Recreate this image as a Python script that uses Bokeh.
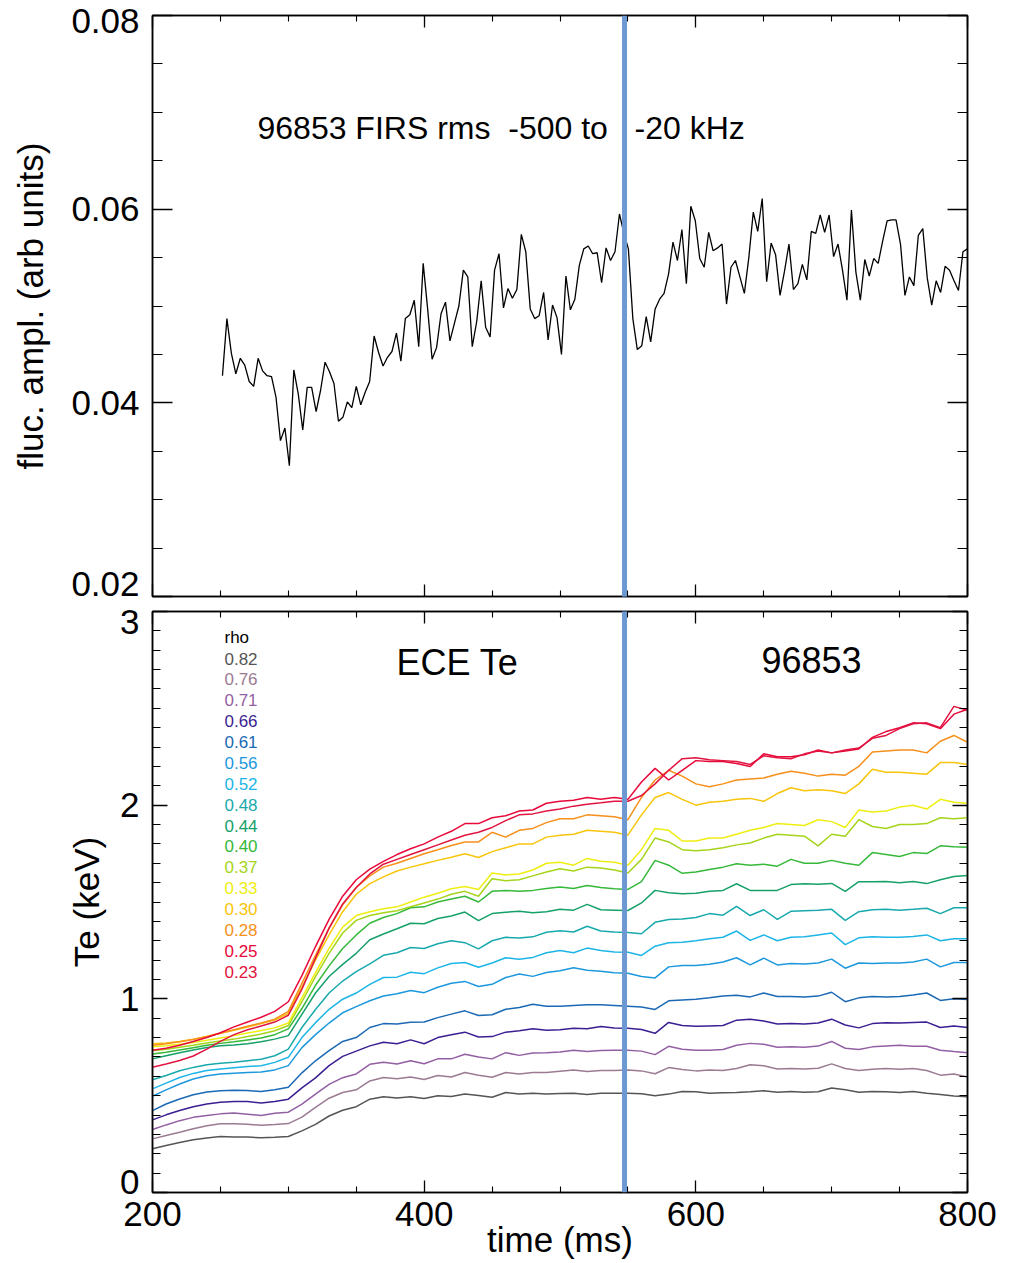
from bokeh.plotting import figure
from bokeh.layouts import column
from bokeh.models import (Range1d, LinearAxis, FixedTicker, Span, Label,
                          BoxAnnotation, PrintfTickFormatter)
from bokeh.core.properties import value
from bokeh.embed import file_html
from bokeh.resources import INLINE

FONT = "Liberation Sans"

# ------------------------------------------------------------------ data
shot = "96853"
marker_time = 547.5          # ms, vertical marker

# FIRS fluctuation amplitude (arb units), uniform sampling
fluc_t0 = 251.5
fluc_dt = 3.284
fluc_amp = [
    0.0428, 0.0487, 0.0451, 0.0430, 0.0446, 0.0439, 0.0422, 0.0417, 0.0446, 0.0433,
    0.0428, 0.0427, 0.0406, 0.0361, 0.0374, 0.0335, 0.0434, 0.0409, 0.0372, 0.0416,
    0.0416, 0.0391, 0.0413, 0.0442, 0.0432, 0.0420, 0.0381, 0.0385, 0.0401, 0.0395,
    0.0417, 0.0398, 0.0411, 0.0422, 0.0469, 0.0452, 0.0438, 0.0447, 0.0453, 0.0472,
    0.0443, 0.0487, 0.0491, 0.0506, 0.0458, 0.0544, 0.0497, 0.0445, 0.0457, 0.0492,
    0.0504, 0.0464, 0.0482, 0.0500, 0.0537, 0.0530, 0.0458, 0.0484, 0.0526, 0.0478,
    0.0468, 0.0537, 0.0554, 0.0498, 0.0518, 0.0508, 0.0517, 0.0574, 0.0556, 0.0497,
    0.0487, 0.0490, 0.0514, 0.0465, 0.0501, 0.0488, 0.0450, 0.0531, 0.0496, 0.0507,
    0.0542, 0.0559, 0.0562, 0.0554, 0.0555, 0.0524, 0.0560, 0.0547, 0.0556, 0.0595,
    0.0575, 0.0559, 0.0487, 0.0455, 0.0459, 0.0489, 0.0463, 0.0497, 0.0507, 0.0513,
    0.0533, 0.0566, 0.0547, 0.0579, 0.0523, 0.0603, 0.0588, 0.0549, 0.0540, 0.0576,
    0.0557, 0.0560, 0.0564, 0.0502, 0.0540, 0.0547, 0.0530, 0.0513, 0.0550, 0.0597,
    0.0577, 0.0611, 0.0525, 0.0565, 0.0553, 0.0511, 0.0536, 0.0564, 0.0517, 0.0523,
    0.0543, 0.0527, 0.0577, 0.0575, 0.0594, 0.0576, 0.0594, 0.0551, 0.0564, 0.0537,
    0.0506, 0.0599, 0.0535, 0.0506, 0.0548, 0.0531, 0.0549, 0.0544, 0.0567, 0.0588,
    0.0589, 0.0589, 0.0564, 0.0511, 0.0530, 0.0521, 0.0573, 0.0580, 0.0529, 0.0501,
    0.0526, 0.0514, 0.0541, 0.0537, 0.0526, 0.0516, 0.0556, 0.0559,
]
fluc_time = [fluc_t0 + i * fluc_dt for i in range(len(fluc_amp))]

# ECE Te (keV) sampled every 10 ms from 200 to 800 ms
ece_time = list(range(200, 801, 10))

rho_labels = ["0.82", "0.76", "0.71", "0.66", "0.61", "0.56", "0.52", "0.48",
              "0.44", "0.40", "0.37", "0.33", "0.30", "0.28", "0.25", "0.23"]
rho_colors = ["#555555", "#9b7b93", "#935fa3", "#3b1f92", "#1b69b5", "#1c98dc",
              "#1cb5e6", "#19a9ad", "#16a06a", "#36b83a", "#a6d41a", "#eeee10",
              "#f8c50a", "#f6901a", "#e8083a", "#e21440"]

te_082 = [0.226, 0.243, 0.258, 0.272, 0.282, 0.289, 0.287, 0.286, 0.283, 0.285, 0.289,
          0.318, 0.352, 0.395, 0.425, 0.443, 0.482, 0.494, 0.488, 0.495, 0.485,
          0.500, 0.496, 0.509, 0.501, 0.492, 0.516, 0.509, 0.513, 0.508, 0.511,
          0.512, 0.506, 0.512, 0.513, 0.513, 0.510, 0.500, 0.508, 0.522, 0.520,
          0.512, 0.515, 0.516, 0.520, 0.525, 0.518, 0.522, 0.518, 0.520, 0.540,
          0.530, 0.518, 0.522, 0.520, 0.516, 0.522, 0.512, 0.506, 0.498, 0.494]
te_076 = [0.277, 0.294, 0.311, 0.329, 0.345, 0.355, 0.355, 0.352, 0.347, 0.351, 0.356,
          0.389, 0.440, 0.487, 0.516, 0.530, 0.576, 0.594, 0.587, 0.596, 0.583,
          0.604, 0.596, 0.620, 0.605, 0.595, 0.620, 0.612, 0.620, 0.620, 0.626,
          0.632, 0.625, 0.630, 0.630, 0.632, 0.628, 0.613, 0.645, 0.635, 0.628,
          0.632, 0.630, 0.640, 0.660, 0.655, 0.638, 0.640, 0.638, 0.642, 0.664,
          0.640, 0.630, 0.636, 0.640, 0.636, 0.640, 0.630, 0.606, 0.612, 0.596]
te_071 = [0.325, 0.349, 0.371, 0.388, 0.398, 0.406, 0.410, 0.404, 0.398, 0.409, 0.415,
          0.456, 0.508, 0.558, 0.593, 0.612, 0.662, 0.673, 0.664, 0.680, 0.665,
          0.690, 0.690, 0.714, 0.700, 0.690, 0.722, 0.708, 0.720, 0.722, 0.726,
          0.734, 0.728, 0.733, 0.735, 0.735, 0.730, 0.712, 0.755, 0.740, 0.734,
          0.735, 0.738, 0.760, 0.770, 0.765, 0.750, 0.752, 0.750, 0.756, 0.780,
          0.745, 0.738, 0.752, 0.756, 0.760, 0.755, 0.755, 0.735, 0.728, 0.722]
te_066 = [0.375, 0.401, 0.423, 0.443, 0.457, 0.466, 0.470, 0.470, 0.462, 0.470, 0.482,
          0.540, 0.592, 0.655, 0.703, 0.730, 0.757, 0.776, 0.768, 0.788, 0.768,
          0.800, 0.814, 0.828, 0.803, 0.805, 0.828, 0.835, 0.845, 0.838, 0.840,
          0.848, 0.846, 0.857, 0.850, 0.848, 0.842, 0.822, 0.878, 0.862, 0.858,
          0.860, 0.862, 0.890, 0.895, 0.885, 0.870, 0.872, 0.870, 0.875, 0.895,
          0.865, 0.850, 0.872, 0.876, 0.875, 0.878, 0.880, 0.852, 0.860, 0.852]
te_061 = [0.423, 0.457, 0.483, 0.505, 0.519, 0.526, 0.528, 0.527, 0.521, 0.530, 0.543,
          0.618, 0.680, 0.733, 0.780, 0.800, 0.852, 0.872, 0.870, 0.879, 0.880,
          0.903, 0.921, 0.938, 0.914, 0.918, 0.946, 0.955, 0.972, 0.962, 0.962,
          0.966, 0.970, 0.970, 0.966, 0.962, 0.958, 0.945, 0.990, 0.994, 0.998,
          1.005, 1.015, 1.018, 1.010, 1.030, 1.012, 1.012, 1.010, 1.014, 1.034,
          0.985, 1.005, 1.012, 1.010, 1.012, 1.020, 1.030, 0.992, 1.000, 0.996]
te_056 = [0.497, 0.530, 0.560, 0.586, 0.603, 0.612, 0.616, 0.620, 0.622, 0.633, 0.655,
          0.748, 0.815, 0.875, 0.928, 0.960, 0.990, 1.015, 1.026, 1.043, 1.032,
          1.060, 1.080, 1.090, 1.064, 1.075, 1.110, 1.128, 1.116, 1.136, 1.145,
          1.160, 1.148, 1.142, 1.135, 1.132, 1.115, 1.108, 1.165, 1.172, 1.172,
          1.178, 1.190, 1.212, 1.175, 1.210, 1.175, 1.182, 1.180, 1.185, 1.205,
          1.158, 1.185, 1.182, 1.185, 1.185, 1.190, 1.205, 1.165, 1.188, 1.188]
te_052 = [0.535, 0.565, 0.594, 0.615, 0.630, 0.638, 0.644, 0.650, 0.655, 0.672, 0.698,
          0.800, 0.877, 0.946, 0.998, 1.030, 1.075, 1.110, 1.112, 1.137, 1.130,
          1.160, 1.182, 1.188, 1.163, 1.185, 1.212, 1.205, 1.214, 1.238, 1.250,
          1.238, 1.262, 1.250, 1.242, 1.240, 1.224, 1.272, 1.290, 1.292, 1.300,
          1.310, 1.318, 1.350, 1.302, 1.330, 1.300, 1.318, 1.320, 1.330, 1.340,
          1.280, 1.315, 1.320, 1.318, 1.318, 1.322, 1.330, 1.300, 1.310, 1.310]
te_048 = [0.582, 0.604, 0.629, 0.646, 0.660, 0.667, 0.672, 0.680, 0.688, 0.706, 0.740,
          0.852, 0.945, 1.030, 1.092, 1.140, 1.180, 1.225, 1.238, 1.265, 1.260,
          1.284, 1.300, 1.290, 1.258, 1.300, 1.318, 1.314, 1.320, 1.344, 1.352,
          1.345, 1.375, 1.350, 1.345, 1.342, 1.336, 1.395, 1.410, 1.412, 1.420,
          1.440, 1.432, 1.478, 1.430, 1.460, 1.410, 1.452, 1.455, 1.458, 1.462,
          1.405, 1.450, 1.460, 1.462, 1.458, 1.462, 1.468, 1.440, 1.470, 1.470]
te_044 = [0.690, 0.706, 0.722, 0.736, 0.749, 0.758, 0.762, 0.768, 0.778, 0.792, 0.810,
          0.920, 1.030, 1.115, 1.178, 1.235, 1.305, 1.335, 1.362, 1.390, 1.388,
          1.415, 1.428, 1.448, 1.404, 1.440, 1.447, 1.452, 1.445, 1.450, 1.462,
          1.458, 1.488, 1.460, 1.458, 1.456, 1.495, 1.560, 1.548, 1.542, 1.545,
          1.555, 1.560, 1.594, 1.560, 1.560, 1.560, 1.590, 1.594, 1.592, 1.596,
          1.555, 1.605, 1.605, 1.606, 1.600, 1.606, 1.595, 1.615, 1.632, 1.637]
te_040 = [0.715, 0.724, 0.736, 0.748, 0.760, 0.770, 0.778, 0.788, 0.798, 0.815, 0.845,
          0.950, 1.070, 1.170, 1.260, 1.330, 1.390, 1.420, 1.440, 1.470, 1.475,
          1.500, 1.515, 1.530, 1.500, 1.555, 1.560, 1.555, 1.560, 1.570, 1.577,
          1.570, 1.585, 1.575, 1.568, 1.565, 1.605, 1.715, 1.690, 1.648, 1.655,
          1.668, 1.680, 1.697, 1.690, 1.695, 1.685, 1.720, 1.700, 1.700, 1.715,
          1.700, 1.690, 1.755, 1.745, 1.735, 1.755, 1.750, 1.790, 1.785, 1.783]
te_037 = [0.732, 0.740, 0.750, 0.760, 0.772, 0.782, 0.792, 0.805, 0.818, 0.835, 0.862,
          0.985, 1.115, 1.235, 1.340, 1.405, 1.430, 1.445, 1.455, 1.475, 1.495,
          1.515, 1.540, 1.555, 1.530, 1.620, 1.610, 1.615, 1.635, 1.655, 1.672,
          1.660, 1.680, 1.675, 1.665, 1.650, 1.720, 1.830, 1.810, 1.770, 1.765,
          1.770, 1.780, 1.795, 1.805, 1.830, 1.850, 1.845, 1.840, 1.790, 1.850,
          1.840, 1.925, 1.890, 1.880, 1.900, 1.900, 1.905, 1.935, 1.930, 1.935]
te_033 = [0.752, 0.758, 0.766, 0.775, 0.786, 0.798, 0.810, 0.823, 0.836, 0.850, 0.875,
          1.005, 1.135, 1.260, 1.370, 1.430, 1.450, 1.465, 1.475, 1.500, 1.525,
          1.545, 1.568, 1.580, 1.565, 1.650, 1.640, 1.645, 1.665, 1.700, 1.705,
          1.690, 1.725, 1.710, 1.705, 1.690, 1.770, 1.880, 1.870, 1.815, 1.815,
          1.830, 1.830, 1.850, 1.870, 1.885, 1.905, 1.900, 1.895, 1.925, 1.915,
          1.885, 1.975, 1.965, 1.970, 1.990, 2.000, 1.980, 2.030, 2.015, 2.010]
te_030 = [0.768, 0.772, 0.780, 0.792, 0.806, 0.822, 0.838, 0.855, 0.872, 0.890, 0.925,
          1.060, 1.200, 1.330, 1.450, 1.540, 1.595, 1.630, 1.660, 1.680, 1.697,
          1.715, 1.731, 1.749, 1.730, 1.760, 1.780, 1.800, 1.800, 1.835, 1.845,
          1.850, 1.870, 1.865, 1.860, 1.845, 1.950, 2.040, 2.065, 2.030, 2.000,
          2.015, 2.020, 2.030, 2.035, 2.020, 2.060, 2.090, 2.075, 2.080, 2.075,
          2.060, 2.110, 2.185, 2.170, 2.170, 2.165, 2.160, 2.220, 2.220, 2.210]
te_028 = [0.760, 0.768, 0.778, 0.790, 0.805, 0.822, 0.840, 0.858, 0.875, 0.895, 0.935,
          1.080, 1.225, 1.365, 1.485, 1.575, 1.635, 1.680, 1.700, 1.725, 1.749,
          1.770, 1.792, 1.810, 1.810, 1.860, 1.835, 1.870, 1.880, 1.910, 1.930,
          1.930, 1.950, 1.945, 1.940, 1.925, 2.040, 2.130, 2.180, 2.150, 2.110,
          2.095, 2.110, 2.130, 2.135, 2.140, 2.160, 2.175, 2.165, 2.150, 2.160,
          2.155, 2.200, 2.275, 2.280, 2.285, 2.285, 2.270, 2.330, 2.360, 2.325]
te_025 = [0.735, 0.745, 0.760, 0.780, 0.800, 0.825, 0.855, 0.880, 0.905, 0.935, 0.985,
          1.120, 1.270, 1.410, 1.530, 1.615, 1.670, 1.710, 1.745, 1.775, 1.800,
          1.835, 1.865, 1.905, 1.905, 1.935, 1.945, 1.970, 1.975, 2.010, 2.020,
          2.025, 2.040, 2.030, 2.040, 2.030, 2.120, 2.190, 2.130, 2.180, 2.230,
          2.225, 2.225, 2.215, 2.200, 2.265, 2.250, 2.250, 2.260, 2.285, 2.270,
          2.280, 2.290, 2.350, 2.380, 2.400, 2.425, 2.420, 2.395, 2.470, 2.495]
te_023 = [0.647, 0.664, 0.682, 0.705, 0.740, 0.780, 0.815, 0.840, 0.860, 0.880, 0.915,
          1.050, 1.210, 1.365, 1.490, 1.575, 1.645, 1.695, 1.720, 1.745, 1.770,
          1.795, 1.820, 1.845, 1.860, 1.885, 1.920, 1.950, 1.955, 1.970, 1.980,
          1.995, 2.005, 2.012, 2.020, 2.020, 2.050, 2.110, 2.180, 2.240, 2.245,
          2.235, 2.230, 2.225, 2.210, 2.255, 2.245, 2.240, 2.265, 2.280, 2.270,
          2.285, 2.295, 2.345, 2.360, 2.395, 2.420, 2.425, 2.400, 2.510, 2.490]

te_series = [te_082, te_076, te_071, te_066, te_061, te_056, te_052, te_048,
             te_044, te_040, te_037, te_033, te_030, te_028, te_025, te_023]

# axis ticks
x_major = [200, 400, 600, 800]
x_minor = [250, 300, 350, 450, 500, 550, 650, 700, 750]
fl_major = [0.02, 0.04, 0.06, 0.08]
fl_minor = [0.025, 0.03, 0.035, 0.045, 0.05, 0.055, 0.065, 0.07, 0.075]
te_major = [0, 1, 2, 3]
te_minor = [i / 10 for i in range(31) if i % 10]
# label anchor positions: the end labels sit slightly inside the frame corners
fl_label_pos = [0.02134, 0.04, 0.06, 0.0794]
te_label_pos = [0.052, 1, 2, 2.948]

# ------------------------------------------------------------------ style
MARK_COLOR = "#6d98d2"
TICK_FS = "35px"
LABEL_FS = "35px"


def style_axis(ax, major, minor, tin, tmin, labels, fmt=None):
    ax.ticker = FixedTicker(ticks=major, minor_ticks=minor)
    ax.major_tick_in = tin
    ax.major_tick_out = 0
    ax.minor_tick_in = tmin
    ax.minor_tick_out = 0
    ax.axis_line_color = "black"
    ax.axis_line_width = 1.5
    ax.major_tick_line_color = "black"
    ax.major_tick_line_width = 1.3
    ax.minor_tick_line_color = "black"
    ax.minor_tick_line_width = 1.1
    ax.axis_label_text_font = FONT
    ax.axis_label_text_font_style = "normal"
    ax.axis_label_text_font_size = LABEL_FS
    ax.axis_label_text_color = "black"
    if labels:
        ax.major_label_text_font = FONT
        ax.major_label_text_font_size = TICK_FS
        ax.major_label_text_color = "black"
        if fmt:
            ax.formatter = PrintfTickFormatter(format=fmt)
    else:
        ax.major_label_text_font_size = "0px"
        ax.major_label_text_color = None
        ax.major_label_standoff = 0


def label_axis(positions, fmt, label, standoff):
    """Left axis that only carries tick labels and the axis title."""
    ax = LinearAxis()
    ax.ticker = FixedTicker(ticks=positions, minor_ticks=[])
    ax.formatter = PrintfTickFormatter(format=fmt)
    ax.major_tick_in = 0
    ax.major_tick_out = 0
    ax.minor_tick_in = 0
    ax.minor_tick_out = 0
    ax.major_tick_line_color = None
    ax.minor_tick_line_color = None
    ax.axis_line_color = None
    ax.major_label_standoff = 13
    ax.major_label_text_font = FONT
    ax.major_label_text_font_size = TICK_FS
    ax.major_label_text_color = "black"
    ax.axis_label = label
    ax.axis_label_standoff = standoff
    ax.axis_label_text_font = FONT
    ax.axis_label_text_font_style = "normal"
    ax.axis_label_text_font_size = LABEL_FS
    ax.axis_label_text_color = "black"
    return ax


# ------------------------------------------------------------------ top panel
p1 = figure(width=1019, height=603, x_range=Range1d(200, 800),
            y_range=Range1d(0.02, 0.08), output_backend="svg",
            toolbar_location=None, min_border_left=152, min_border_right=52,
            min_border_top=15, min_border_bottom=7)
p1.grid.visible = False
p1.outline_line_color = "black"
p1.outline_line_width = 1.5
p1.background_fill_color = "white"
p1.border_fill_color = "white"

style_axis(p1.xaxis[0], x_major, x_minor, 12, 6, False)
style_axis(p1.yaxis[0], fl_major, fl_minor, 20, 10, False)
p1.add_layout(label_axis(fl_label_pos, "%.2f", "fluc. ampl. (arb units)", 18), "left")
r1 = LinearAxis()
p1.add_layout(r1, "right")
style_axis(r1, fl_major, fl_minor, 20, 10, False)
t1 = LinearAxis()
p1.add_layout(t1, "above")
style_axis(t1, x_major, x_minor, 12, 6, False)

p1.line(fluc_time, fluc_amp, line_color="black", line_width=1.3)
p1.add_layout(Span(location=marker_time, dimension="height",
                   line_color=MARK_COLOR, line_width=5))
p1.add_layout(BoxAnnotation(left=marker_time - 1.8, right=marker_time + 1.8,
                            bottom=0.0185, top=0.0201, fill_color=MARK_COLOR,
                            fill_alpha=1.0, line_color=None))
p1.add_layout(Label(x=277.3, y=0.0684,
                    text=shot + " FIRS rms\u00a0\u00a0-500 to\u00a0\u00a0\u00a0-20 kHz",
                    text_font=FONT, text_font_size="32px", text_color="black",
                    text_baseline="middle", text_align="left"))

# ------------------------------------------------------------------ bottom panel
p2 = figure(width=1019, height=660, x_range=p1.x_range,
            y_range=Range1d(0, 3), output_backend="svg",
            toolbar_location=None, min_border_left=152, min_border_right=52,
            min_border_top=8, min_border_bottom=71)
p2.grid.visible = False
p2.outline_line_color = "black"
p2.outline_line_width = 1.5

style_axis(p2.xaxis[0], x_major, x_minor, 12, 6, True, "%d")
p2.xaxis[0].major_label_standoff = 9
p2.xaxis[0].axis_label = "time (ms)"
p2.xaxis[0].axis_label_standoff = -9
style_axis(p2.yaxis[0], te_major, te_minor, 15, 8, False)
p2.add_layout(label_axis(te_label_pos, "%.0f", "Te (keV)", 11), "left")
r2 = LinearAxis()
p2.add_layout(r2, "right")
style_axis(r2, te_major, te_minor, 15, 8, False)
t2 = LinearAxis()
p2.add_layout(t2, "above")
style_axis(t2, x_major, x_minor, 12, 6, False)

for series, col in zip(te_series, rho_colors):
    p2.line(ece_time, series, line_color=col, line_width=1.5)

p2.add_layout(Span(location=marker_time, dimension="height",
                   line_color=MARK_COLOR, line_width=5))
p2.add_layout(BoxAnnotation(left=marker_time - 1.8, right=marker_time + 1.8,
                            bottom=2.999, top=3.05, fill_color=MARK_COLOR,
                            fill_alpha=1.0, line_color=None))

# legend of rho values (text column in upper-left)
leg_x = 253.0
leg_y0 = 2.757
leg_dy = 0.1078
p2.text(x=[leg_x], y=[leg_y0 + leg_dy], text=["rho"], text_color="black",
        text_font=value(FONT), text_font_size="17px",
        text_baseline="middle", text_align="left")
p2.text(x=[leg_x] * len(rho_labels),
        y=[leg_y0 - i * leg_dy for i in range(len(rho_labels))],
        text=rho_labels, text_color=rho_colors,
        text_font=value(FONT), text_font_size="17px",
        text_baseline="middle", text_align="left")

p2.add_layout(Label(x=424.5, y=2.737, text="ECE Te", text_font=FONT,
                    text_font_size="36px", text_color="black",
                    text_baseline="middle", text_align="center"))
p2.add_layout(Label(x=685.2, y=2.747, text=shot, text_font=FONT,
                    text_font_size="36px", text_color="black",
                    text_baseline="middle", text_align="center"))

layout = column(p1, p2, spacing=0)
open("out.html", "w").write(file_html(layout, INLINE))
